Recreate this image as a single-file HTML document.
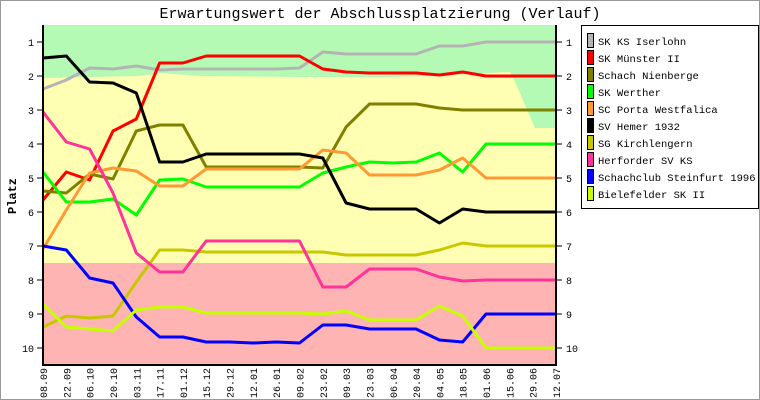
<!DOCTYPE html>
<html><head><meta charset="utf-8"><style>
body{margin:0;background:#fff}
svg{display:block;font-family:"Liberation Mono",monospace}
</style></head><body>
<svg width="760" height="400" viewBox="0 0 760 400" xmlns="http://www.w3.org/2000/svg">
<rect x="0.5" y="0.5" width="759" height="399" fill="#fff" stroke="#999"/>
<text x="380" y="18" font-size="15" text-anchor="middle">Erwartungswert der Abschlussplatzierung (Verlauf)</text>
<rect x="43" y="25" width="513" height="340" fill="#ffffb4"/>
<polygon points="43,25 556,25 556,128 535,128 513,77 510,72 490,73 440,76 380,77 300,77 200,76 160,73 140,76 43,78" fill="#b4fab4"/>
<rect x="43" y="263" width="513" height="102" fill="#ffb4b4"/>
<g fill="none" stroke-width="3" stroke-linejoin="round">
<polyline id="p0" stroke="#b4b4b4" points=""/>
<polyline id="p1" stroke="#ff0000" points=""/>
<polyline id="p2" stroke="#808000" points=""/>
<polyline id="p3" stroke="#00ff00" points=""/>
<polyline id="p4" stroke="#ff9933" points=""/>
<polyline id="p5" stroke="#000000" points=""/>
<polyline id="p6" stroke="#c8c800" points=""/>
<polyline id="p7" stroke="#ff3399" points=""/>
<polyline id="p8" stroke="#0000ff" points=""/>
<polyline id="p9" stroke="#c8ff00" points=""/>
</g>
<g stroke="#000" stroke-width="2"><line x1="43" y1="25" x2="43" y2="365"/><line x1="556" y1="25" x2="556" y2="365"/><line x1="42" y1="365" x2="557" y2="365"/></g>
<g id="ticks" stroke="#000" stroke-width="1"></g>
<g id="lab" font-size="10"></g>
<text transform="translate(16,196) rotate(-90)" font-size="12" font-weight="bold" text-anchor="middle">Platz</text>
<rect x="581.5" y="25.5" width="177" height="183" fill="#fff" stroke="#000"/>
<g id="leg" font-size="10.5"></g>
</svg>
<script>
var data=[
[89,80,68,69,66,70,69,69,69,69,69,68,52,54,54,54,54,46,46,42,42,42,42],
[200,172,180,131,119,63,63,56,56,56,56,56,69,72,73,73,73,75,72,76,76,76,76],
[191,193,174,179,131,125,125,167,167,167,167,167,168,127,104,104,104,108,110,110,110,110,110],
[172,202,202,199,215,180,179,187,187,187,187,187,173,167,162,163,162,153,172,144,144,144,144],
[249,210,173,168,171,186,186,169,169,169,169,169,150,153,175,175,175,170,158,178,178,178,178],
[58,56,82,83,93,162,162,154,154,154,154,154,158,203,209,209,209,223,209,212,212,212,212],
[327,316,318,316,282,250,250,252,252,252,252,252,252,255,255,255,255,250,243,246,246,246,246],
[112,142,149,193,253,272,272,241,241,241,241,241,287,287,269,269,269,277,281,280,280,280,280],
[246,250,278,283,317,337,337,342,342,343,342,343,325,325,329,329,329,340,342,314,314,314,314],
[304,327,329,331,310,307,307,313,313,313,313,313,314,311,320,320,320,306,316,348,348,348,348]];
var names=["SK KS Iserlohn","SK Münster II","Schach Nienberge","SK Werther","SC Porta Westfalica","SV Hemer 1932","SG Kirchlengern","Herforder SV KS","Schachclub Steinfurt 1996","Bielefelder SK II"];
var cols=["#b4b4b4","#ff0000","#808000","#00ff00","#ff9933","#000000","#c8c800","#ff3399","#0000ff","#c8ff00"];
var dates=["08.09","22.09","06.10","20.10","03.11","17.11","01.12","15.12","29.12","12.01","26.01","09.02","23.02","09.03","23.03","06.04","20.04","04.05","18.05","01.06","15.06","29.06","12.07"];
var NS="http://www.w3.org/2000/svg";
function X(i){return 43+i*513/22;}
data.forEach(function(d,k){document.getElementById("p"+k).setAttribute("points",d.map(function(y,i){return X(i).toFixed(1)+","+y}).join(" "));});
var t=document.getElementById("ticks"),l=document.getElementById("lab");
function el(p,tag,a,txt){var e=document.createElementNS(NS,tag);for(var k in a)e.setAttribute(k,a[k]);if(txt)e.textContent=txt;p.appendChild(e);return e;}
for(var v=1;v<=10;v++){var y=42+(v-1)*34;
el(t,"line",{x1:37,y1:y,x2:43,y2:y});el(t,"line",{x1:556,y1:y,x2:562,y2:y});
el(l,"text",{x:34,y:y+4,"text-anchor":"end"},""+v);el(l,"text",{x:566,y:y+4},""+v);}
dates.forEach(function(s,i){var x=X(i);el(l,"text",{transform:"translate("+(x+4)+",368) rotate(-90)","text-anchor":"end"},s);});
var g=document.getElementById("leg");
names.forEach(function(n,i){var y=34+i*17;el(g,"rect",{x:587.5,y:y-0.5,width:6,height:14,fill:cols[i],stroke:"#000"});el(g,"text",{x:598,y:y+11},n);});
</script>
</body></html>
